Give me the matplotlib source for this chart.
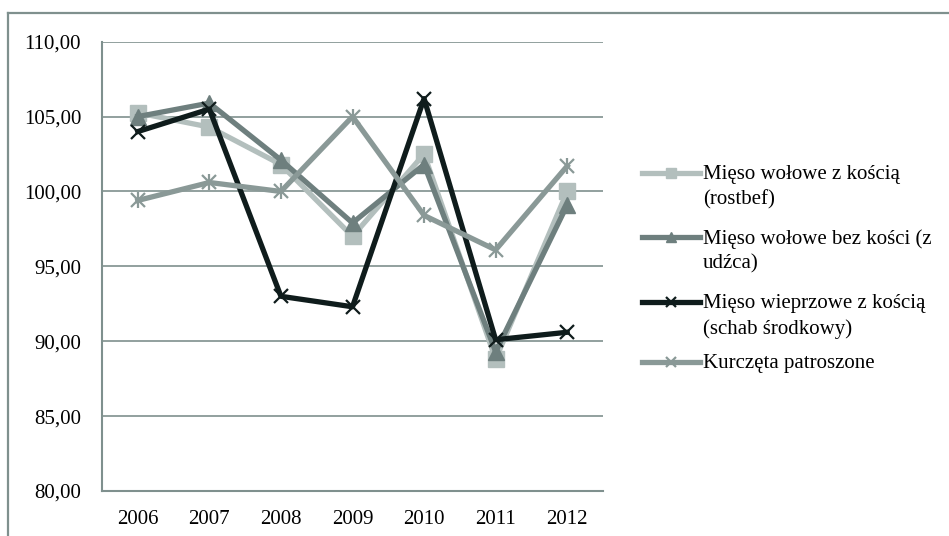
import matplotlib
matplotlib.use("Agg")
import matplotlib.pyplot as plt
from matplotlib.lines import Line2D

plt.rcParams['font.family'] = ['Liberation Serif', 'DejaVu Serif']

years = ["2006", "2007", "2008", "2009", "2010", "2011", "2012"]
rostbef = [105.25, 104.3, 101.8, 97.0, 102.5, 88.8, 100.0]
bez_kosci = [105.0, 105.9, 102.1, 97.9, 101.8, 89.3, 99.1]
wieprzowe = [104.0, 105.5, 93.0, 92.3, 106.2, 90.1, 90.6]
kurczeta = [99.4, 100.6, 100.0, 105.0, 98.4, 96.1, 101.7]

labels = ["Mięso wołowe z kością\n(rostbef)",
          "Mięso wołowe bez kości (z\nudźca)",
          "Mięso wieprzowe z kością\n(schab środkowy)",
          "Kurczęta patroszone"]
yticks = [80, 85, 90, 95, 100, 105, 110]

grid_col = "#7f908e"
W, H = 949, 536

fig = plt.figure(figsize=(W / 100, H / 100), dpi=100)
ax = fig.add_axes([102 / W, 1 - 491 / H, 501 / W, (491 - 41.7) / H])

x = range(len(years))
styles = [
    dict(color="#b3bfbd", marker="s", ms=11.5, mec="#b3bfbd"),
    dict(color="#6e7f7e", marker="^", ms=11, mec="#6e7f7e"),
    dict(color="#0f1c1c", marker="x", ms=10, mew=1.6, mec="#0f1c1c"),
    dict(color="#8a9997", marker="x", ms=10, mew=1.6, mec="#8a9997"),
]
series = [rostbef, bez_kosci, wieprzowe, kurczeta]
for vals, st in zip(series, styles):
    ax.plot(x, vals, lw=3.8, solid_joinstyle="round", **st)
# vertical bar of the asterisk marker
ax.plot(x, kurczeta, ls="none", marker="|", ms=12, mew=1.6, color="#8a9997")

ax.set_xlim(-0.5, len(years) - 0.5)
ax.set_ylim(80, 110)
ax.set_yticks(yticks)
ax.set_yticklabels([f"{v:.2f}".replace(".", ",") for v in yticks])
ax.set_xticks(list(x))
ax.set_xticklabels(years)
ax.tick_params(length=0, labelsize=15, colors="black")
ax.tick_params(axis="y", pad=15)
ax.tick_params(axis="x", pad=14)
ax.yaxis.grid(True, color=grid_col, lw=1.2)
ax.set_axisbelow(True)
for s in ("top", "right"):
    ax.spines[s].set_visible(False)
for s in ("left", "bottom"):
    ax.spines[s].set_color(grid_col)
    ax.spines[s].set_linewidth(1.5)

# outer chart border
fig.add_artist(Line2D([8 / W, 1.0], [1 - 12.5 / H] * 2, color=grid_col, lw=1.6,
                      transform=fig.transFigure))
fig.add_artist(Line2D([8 / W] * 2, [0, 1 - 12.5 / H], color=grid_col, lw=1.6,
                      transform=fig.transFigure))

# legend (handle aligned with first text line, like Excel)
leg_y = [173, 237, 302, 362]
for lab, st, yy in zip(labels, styles, leg_y):
    yf = 1 - yy / H
    st2 = dict(st, ms=7)
    fig.add_artist(Line2D([642 / W, 671 / W, 700 / W], [yf] * 3, lw=3.8,
                          transform=fig.transFigure, markevery=[1], **st2))
    fig.text(703 / W, yf + 8 / H, lab, fontsize=15, va="top", ha="left",
             linespacing=1.42)

fig.savefig("out.png", dpi=100)
